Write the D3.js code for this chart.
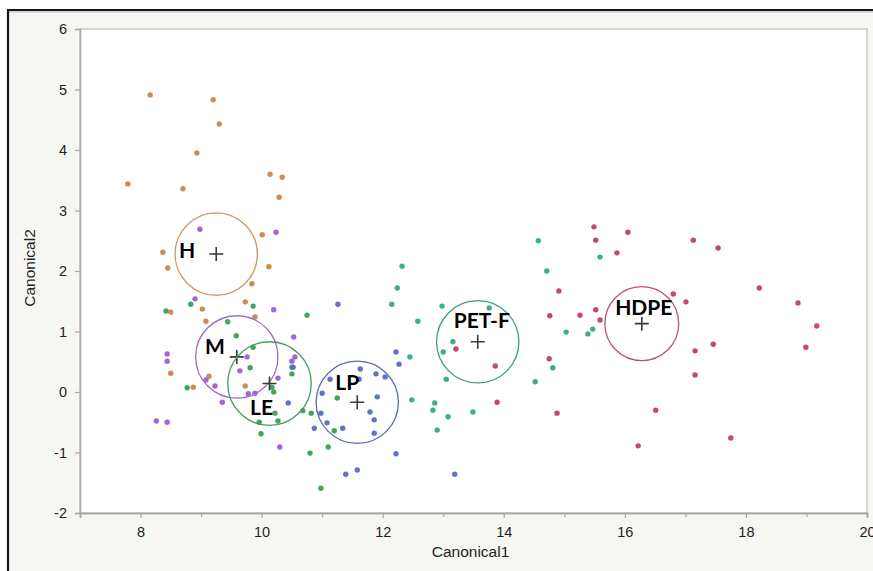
<!DOCTYPE html>
<html>
<head>
<meta charset="utf-8">
<script src="https://cdn.jsdelivr.net/npm/d3@7"></script>
<style>
  html, body { margin: 0; padding: 0; background: #ffffff; }
  svg { display: block; }
</style>
</head>
<body>
<svg id="chart" width="873" height="571"></svg>
<script>
// Canonical scores per class [Canonical1, Canonical2]
const ptsH = [[7.79,3.44],[8.16,4.91],[9.20,4.83],[9.30,4.43],[8.93,3.95],[8.70,3.36],[10.14,3.60],[10.34,3.55],
  [10.29,3.22],[10.01,2.60],[8.37,2.31],[8.45,2.05],[10.12,2.07],[9.84,1.79],[9.02,1.37],[9.73,1.49],[9.89,1.24],
  [9.08,1.17],[8.50,0.31],[8.87,0.08],[9.13,0.26],[9.73,0.10],[8.50,1.32]];
const ptsM = [[8.98,2.69],[10.24,2.64],[8.90,1.54],[10.20,1.36],[10.53,0.91],[8.44,0.63],[8.44,0.51],[9.76,0.58],
  [9.64,0.35],[9.08,0.20],[9.23,0.10],[9.35,-0.17],[9.78,-0.03],[9.89,-0.02],[10.27,0.23],[10.30,-0.91],
  [8.26,-0.48],[8.44,-0.50],[10.50,0.51],[10.55,0.58]];
const ptsLE = [[8.83,1.45],[9.86,1.42],[8.42,1.34],[9.44,1.16],[9.58,0.93],[9.86,0.74],[9.81,0.40],[10.50,0.41],
  [10.50,0.30],[8.77,0.07],[10.17,0.08],[10.20,0.00],[10.22,-0.35],[10.27,-0.48],[9.96,-0.50],[9.99,-0.69],
  [10.75,1.27],[10.68,-0.31],[10.82,-0.35],[10.80,-1.01],[11.10,-0.91],[10.98,-1.59],[11.25,-0.10],[11.20,-0.64]];
const ptsLP = [[11.26,1.45],[10.52,0.41],[10.44,-0.18],[11.63,0.38],[11.13,0.21],[11.61,0.21],[11.89,0.30],
  [12.04,0.25],[11.00,-0.02],[11.91,-0.08],[10.98,-0.35],[11.79,-0.33],[11.86,-0.46],[11.08,-0.51],[10.87,-0.60],
  [11.34,-0.60],[11.86,-0.68],[12.22,-1.02],[11.39,-1.36],[11.58,-1.29],[12.22,0.66],[12.27,0.46],[13.19,-1.36]];
const ptsPETF = [[12.32,2.08],[12.24,1.72],[12.15,1.45],[12.58,1.17],[12.45,0.58],[12.48,-0.13],[12.98,1.42],
  [13.76,1.39],[13.16,0.83],[13.00,0.66],[13.05,0.21],[12.86,-0.18],[12.83,-0.30],[13.08,-0.41],[13.49,-0.33],
  [12.90,-0.63],[14.57,2.50],[14.71,2.00],[15.03,0.99],[14.81,0.40],[14.52,0.17],[15.59,2.23],[15.39,0.96],[15.47,1.04]];
const ptsHDPE = [[15.49,2.73],[15.52,2.51],[16.05,2.64],[15.87,2.30],[17.13,2.51],[17.54,2.38],[14.91,1.67],
  [18.22,1.72],[16.80,1.62],[17.01,1.49],[18.86,1.47],[14.76,1.26],[15.26,1.27],[15.52,1.36],[15.59,1.19],
  [19.17,1.09],[17.46,0.79],[17.16,0.68],[18.99,0.74],[17.16,0.28],[16.51,-0.30],[16.22,-0.89],[17.75,-0.76],
  [13.21,0.71],[13.86,0.43],[13.89,-0.17],[14.75,0.55],[14.88,-0.35]];

// Class means and radii of their confidence circles (in Canonical units)
const classNames = ["H", "M", "LE", "LP", "PET-F", "HDPE"];
const classPoints = [ptsH, ptsM, ptsLE, ptsLP, ptsPETF, ptsHDPE];
const meanX = [9.25, 9.59, 10.13, 11.58, 13.57, 16.28];
const meanY = [2.28, 0.58, 0.14, -0.17, 0.83, 1.13];
const meanRadius = [0.68, 0.68, 0.69, 0.68, 0.68, 0.61];

const xTicks = [8, 10, 12, 14, 16, 18, 20];
const xMinorTicks = [9, 11, 13, 15, 17, 19];
const yTicks = [-2, -1, 0, 1, 2, 3, 4, 5, 6];

// Styling
const dotColors = ["#c4884c", "#9a5ed2", "#3c9f50", "#5a6cc2", "#2fab84", "#c03f66"];
const ringColors = ["#c79c6c", "#9a70c6", "#4c9a5e", "#5c6ab2", "#3c9c82", "#b6566e"];
const labelOffsets = [[-21, 4, "end"], [-12, -3, "end"], [-8, 31, "middle"], [-10, -12, "middle"], [4, -14, "middle"], [2, -9, "middle"]];

const svg = d3.select("#chart");
const W = 873, H = 571;
const plot = { left: 80, right: 867, top: 29, bottom: 513 };

const x = d3.scaleLinear().domain([7, 20]).range([plot.left, plot.right]);
const y = d3.scaleLinear().domain([-2, 6]).range([plot.bottom, plot.top]);

// Window frame
svg.append("rect").attr("x", 8).attr("y", 10).attr("width", W - 8).attr("height", H - 10).attr("fill", "#f6f6f3");
svg.append("line").attr("x1", 9).attr("x2", W).attr("y1", 12).attr("y2", 12).attr("stroke", "#d8d8d4").attr("stroke-width", 2);
svg.append("line").attr("x1", 7).attr("x2", W).attr("y1", 10).attr("y2", 10).attr("stroke", "#151515").attr("stroke-width", 2.2);
svg.append("line").attr("x1", 8).attr("x2", 8).attr("y1", 9).attr("y2", H).attr("stroke", "#151515").attr("stroke-width", 2.2);

// Plot area
svg.append("rect")
  .attr("x", plot.left).attr("y", plot.top)
  .attr("width", plot.right - plot.left).attr("height", plot.bottom - plot.top)
  .attr("fill", "#ffffff").attr("stroke", "#bdbdbd").attr("stroke-width", 1.2);

// Axes
const fmt = d => String(d);
const gx = svg.append("g").attr("transform", `translate(0,${plot.bottom})`)
  .call(d3.axisBottom(x).tickValues(xTicks).tickFormat(fmt).tickSize(5).tickPadding(9));
const gxMinor = svg.append("g").attr("transform", `translate(0,${plot.bottom})`)
  .call(d3.axisBottom(x).tickValues(xMinorTicks).tickFormat("").tickSize(4));
const gy = svg.append("g").attr("transform", `translate(${plot.left},0)`)
  .call(d3.axisLeft(y).tickValues(yTicks).tickFormat(fmt).tickSize(5).tickPadding(8));

[gx, gxMinor, gy].forEach(g => {
  g.select(".domain").attr("stroke", "#a8a8a8").attr("stroke-width", 1.5);
  g.selectAll(".tick line").attr("stroke", "#a8a8a8").attr("stroke-width", 1.2);
  g.selectAll(".tick text").attr("fill", "#1e1e1e").style("font-family", "'Liberation Sans', Arial, sans-serif").style("font-size", "14.5px");
});

// Axis titles
svg.append("text").attr("x", (plot.left + plot.right) / 2 - 3).attr("y", 557)
  .attr("text-anchor", "middle").attr("fill", "#1e1e1e")
  .style("font-family", "'Liberation Sans', Arial, sans-serif").style("font-size", "15.5px")
  .text("Canonical1");
svg.append("text").attr("transform", `translate(35,${(plot.top + plot.bottom) / 2 - 3}) rotate(-90)`)
  .attr("text-anchor", "middle").attr("fill", "#1e1e1e")
  .style("font-family", "'Liberation Sans', Arial, sans-serif").style("font-size", "15.5px")
  .text("Canonical2");

// Points
const gPts = svg.append("g");
classPoints.forEach((pts, i) => {
  gPts.selectAll(null).data(pts).enter().append("circle")
    .attr("cx", d => x(d[0])).attr("cy", d => y(d[1]))
    .attr("r", 2.7).attr("fill", dotColors[i]).attr("opacity", 0.95);
});

// Confidence circles, mean crosses and class labels
const unit = x(1) - x(0);
classNames.forEach((name, i) => {
  const cx = x(meanX[i]), cy = y(meanY[i]);
  svg.append("circle").attr("cx", cx).attr("cy", cy).attr("r", meanRadius[i] * unit)
    .attr("fill", "none").attr("stroke", ringColors[i]).attr("stroke-width", 1.3);
  svg.append("path").attr("d", `M${cx - 7},${cy}H${cx + 7}M${cx},${cy - 7}V${cy + 7}`)
    .attr("stroke", "#3a3a3a").attr("stroke-width", 1.6).attr("fill", "none");
  const [dx, dy, anchor] = labelOffsets[i];
  svg.append("text").attr("x", cx + dx).attr("y", cy + dy).attr("text-anchor", anchor)
    .attr("fill", "#000")
    .style("font-family", "Lato, 'Open Sans', sans-serif").style("font-weight", "700").style("font-size", "21px")
    .text(name);
});
</script>
</body>
</html>
